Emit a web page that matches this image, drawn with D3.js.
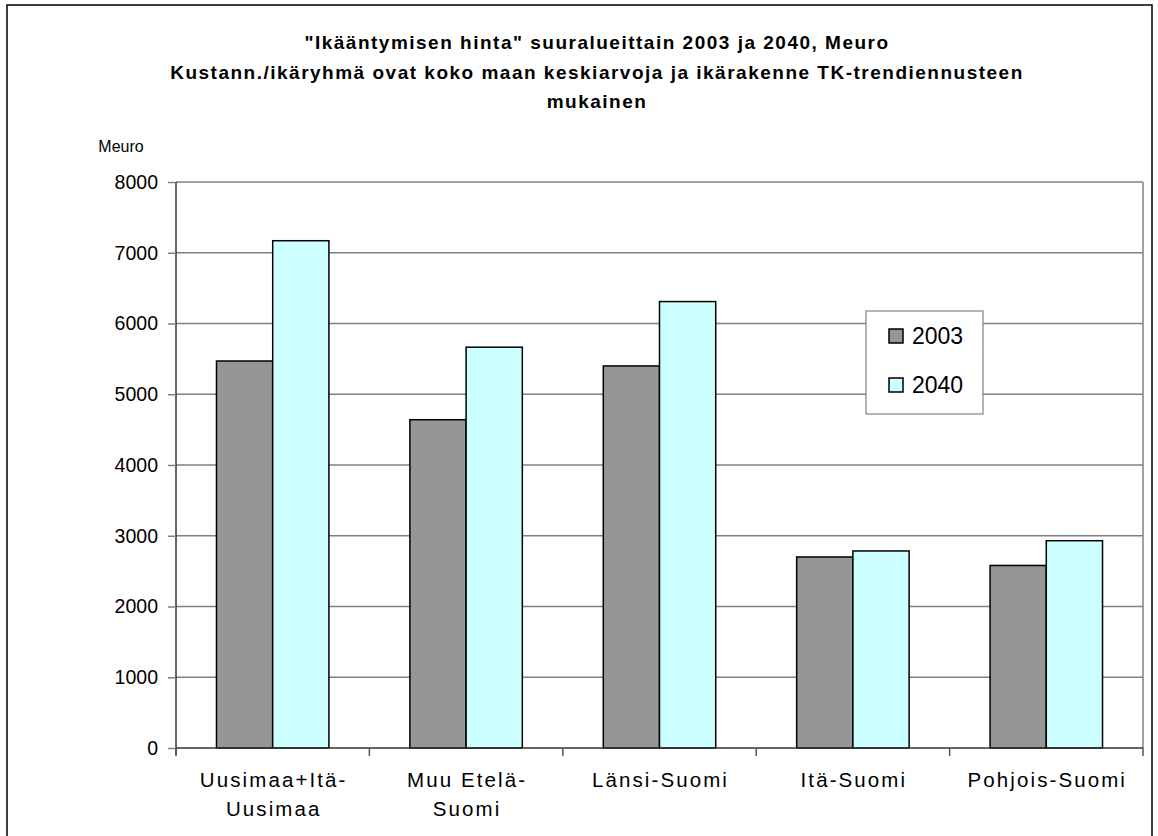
<!DOCTYPE html>
<html>
<head>
<meta charset="utf-8">
<script src="https://cdn.jsdelivr.net/npm/d3@7"></script>
<style>
  html, body { margin: 0; padding: 0; background: #fff; }
  text { font-family: "Liberation Sans", Arial, sans-serif; }
</style>
</head>
<body>
<svg id="chart" width="1158" height="836"></svg>
<script>
const categories = [["Uusimaa+Itä-", "Uusimaa"], ["Muu Etelä-", "Suomi"], ["Länsi-Suomi"], ["Itä-Suomi"], ["Pohjois-Suomi"]];
const seriesNames = ["2003", "2040"];
const values2003 = [5470, 4640, 5400, 2700, 2580];
const values2040 = [7170, 5665, 6310, 2785, 2930];
const yTicks = [0, 1000, 2000, 3000, 4000, 5000, 6000, 7000, 8000];
const titleLines = ["\"Ikääntymisen hinta\" suuralueittain 2003 ja 2040, Meuro",
  "Kustann./ikäryhmä ovat koko maan keskiarvoja ja ikärakenne TK-trendiennusteen",
  "mukainen"];
const yLabel = "Meuro";
const colors = ["#969696", "#CCFFFF"];

const svg = d3.select("#chart");
const W = 1158, H = 836;
const plot = { left: 176, right: 1143, top: 182, bottom: 748 };

// outer border
svg.append("rect").attr("x", 7).attr("y", 5).attr("width", W - 13).attr("height", H + 20)
  .attr("fill", "#fff").attr("stroke", "#000").attr("stroke-width", 1.5);

// title
const title = svg.append("text").attr("text-anchor", "middle")
  .attr("font-weight", "bold").attr("font-size", 19).attr("letter-spacing", 1.5).attr("fill", "#000");
titleLines.forEach((t, i) => {
  title.append("tspan").attr("x", 597).attr("y", 49 + i * 29.5).text(t);
});

const x0 = d3.scaleBand().domain(d3.range(categories.length)).range([plot.left, plot.right]).paddingInner(0).paddingOuter(0);
const x1 = d3.scaleBand().domain(seriesNames).range([0, x0.bandwidth()]).paddingInner(0).paddingOuter(0.72);
const y = d3.scaleLinear().domain([0, 8000]).range([plot.bottom, plot.top]);

// gridlines
svg.append("g").selectAll("line").data(yTicks.filter(d => d > 0)).join("line")
  .attr("x1", plot.left).attr("x2", plot.right)
  .attr("y1", d => y(d)).attr("y2", d => y(d))
  .attr("stroke", "#808080").attr("stroke-width", 1.5);
// right border
svg.append("line").attr("x1", plot.right).attr("x2", plot.right)
  .attr("y1", plot.top).attr("y2", plot.bottom)
  .attr("stroke", "#808080").attr("stroke-width", 1.5);

// bars
const data = categories.map((c, i) => ({ i, vals: [values2003[i], values2040[i]] }));
const groups = svg.append("g").selectAll("g").data(data).join("g")
  .attr("transform", d => `translate(${x0(d.i)},0)`);
groups.selectAll("rect").data(d => d.vals.map((v, k) => ({ v, k })))
  .join("rect")
  .attr("x", d => x1(seriesNames[d.k]))
  .attr("width", x1.bandwidth())
  .attr("y", d => y(d.v))
  .attr("height", d => plot.bottom - y(d.v))
  .attr("fill", d => colors[d.k])
  .attr("stroke", "#000").attr("stroke-width", 1.5);

// y axis
const yAxis = d3.axisLeft(y).tickValues(yTicks).tickSize(8).tickPadding(10).tickFormat(d3.format("d"));
const gy = svg.append("g").attr("transform", `translate(${plot.left},0)`).call(yAxis);
gy.select(".domain").attr("d", `M0,${plot.top}V${plot.bottom + 7}`).attr("stroke", "#333").attr("stroke-width", 1.5);
gy.selectAll(".tick line").attr("stroke", "#808080").attr("stroke-width", 1.5);
gy.selectAll(".tick text").attr("font-size", 19.5).attr("fill", "#000")
  .style("font-family", "'Liberation Sans', Arial, sans-serif");

// x axis baseline and ticks
const bounds = d3.range(categories.length + 1).map(i => plot.left + i * x0.step());
svg.append("line").attr("x1", plot.left).attr("x2", plot.right)
  .attr("y1", plot.bottom).attr("y2", plot.bottom)
  .attr("stroke", "#333").attr("stroke-width", 1.5);
svg.append("g").selectAll("line").data(bounds).join("line")
  .attr("x1", d => d).attr("x2", d => d)
  .attr("y1", plot.bottom).attr("y2", plot.bottom + 8)
  .attr("stroke", "#555").attr("stroke-width", 1.5);

// category labels
const cl = svg.append("g").selectAll("text").data(categories).join("text")
  .attr("text-anchor", "middle").attr("font-size", 20.5).attr("fill", "#000")
  .attr("letter-spacing", 2.1);
cl.each(function (lines, i) {
  const t = d3.select(this);
  lines.forEach((ln, j) => {
    t.append("tspan").attr("x", x0(i) + x0.bandwidth() / 2 + 1).attr("y", 787 + j * 29).text(ln);
  });
});

// y label
svg.append("text").attr("x", 121).attr("y", 152).attr("text-anchor", "middle")
  .attr("font-size", 16).attr("fill", "#000").text(yLabel);

// legend
const lg = svg.append("g").attr("transform", "translate(866,311)");
lg.append("rect").attr("width", 117).attr("height", 103).attr("fill", "#fff")
  .attr("stroke", "#808080").attr("stroke-width", 1.2);
seriesNames.forEach((s, k) => {
  const row = lg.append("g").attr("transform", `translate(0,${25 + k * 49})`);
  row.append("rect").attr("x", 23).attr("y", -7).attr("width", 14).attr("height", 14)
    .attr("fill", colors[k]).attr("stroke", "#000").attr("stroke-width", 1.5);
  row.append("text").attr("x", 46).attr("y", 7.5).attr("font-size", 23).attr("fill", "#000").text(s);
});
</script>
</body>
</html>
